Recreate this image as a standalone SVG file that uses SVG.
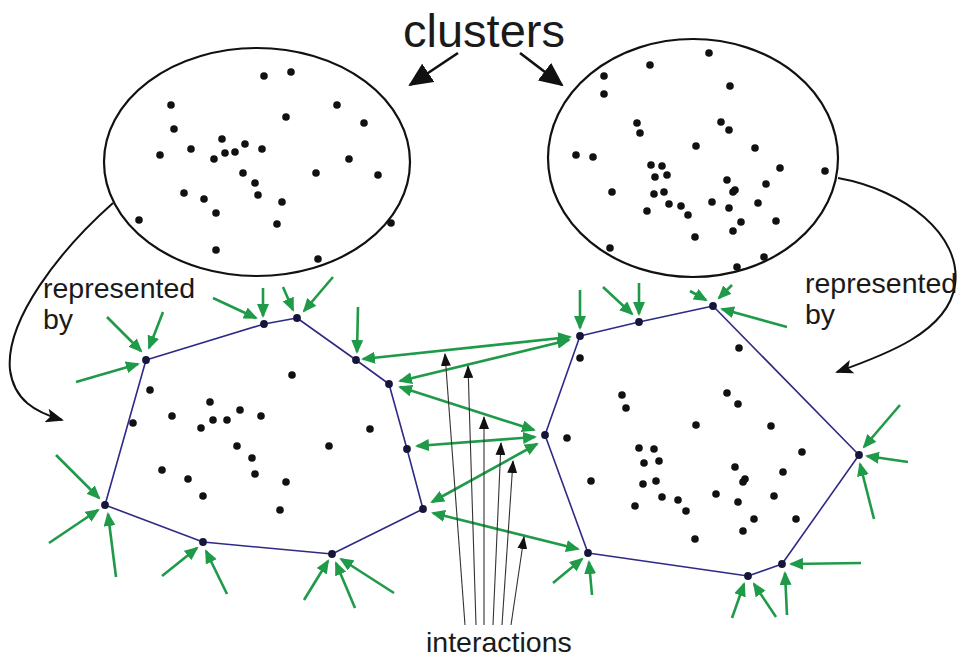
<svg xmlns="http://www.w3.org/2000/svg" width="960" height="658" viewBox="0 0 960 658">
<style>
.ell{fill:none;stroke:#111;stroke-width:2.2}
.dot circle{fill:#111;r:3.8px}
.hull{fill:none;stroke:#2e2a86;stroke-width:1.6;stroke-linejoin:round}
.v circle{fill:#16163a;r:3.9px}
.g{stroke:#1f9a48;stroke-width:2.6;fill:none;marker-end:url(#gh)}
.gd{stroke:#1f9a48;stroke-width:2.6;fill:none;marker-end:url(#gh);marker-start:url(#gh)}
.ia{stroke:#333;stroke-width:1.1;fill:none;marker-end:url(#th)}
.cv{stroke:#111;stroke-width:2;fill:none;marker-end:url(#ch)}
.ca{stroke:#111;stroke-width:2.6;fill:none;marker-end:url(#bh)}
.t{font-family:"Liberation Sans",Arial,sans-serif;fill:#1a1a1a}
</style>
<defs>
<marker id="gh" markerUnits="userSpaceOnUse" markerWidth="15" markerHeight="12" refX="12" refY="6" orient="auto-start-reverse"><path d="M0,0 L14,6 L0,12 z" fill="#1f9a48"/></marker>
<marker id="th" markerUnits="userSpaceOnUse" markerWidth="13" markerHeight="10" refX="12" refY="5" orient="auto"><path d="M0,0 L13,5 L0,10 z" fill="#111"/></marker>
<marker id="ch" markerUnits="userSpaceOnUse" markerWidth="18" markerHeight="14" refX="16" refY="7" orient="auto"><path d="M0,0 L18,7 L0,14 L4,7 z" fill="#111"/></marker>
<marker id="bh" markerUnits="userSpaceOnUse" markerWidth="24" markerHeight="22" refX="22" refY="11" orient="auto"><path d="M0,0 L24,11 L0,22 z" fill="#111"/></marker>
</defs>
<rect width="960" height="658" fill="#fff"/>

<g id="cluster-left">
<ellipse class="ell" cx="257" cy="162" rx="153" ry="114"/>
<g class="dot">
<circle cx="264" cy="76" r="3.8"/><circle cx="291" cy="72" r="3.8"/><circle cx="171" cy="105" r="3.8"/><circle cx="337" cy="105" r="3.8"/>
<circle cx="286" cy="117" r="3.8"/><circle cx="174" cy="129" r="3.8"/><circle cx="364" cy="123" r="3.8"/><circle cx="222" cy="139" r="3.8"/>
<circle cx="245" cy="144" r="3.8"/><circle cx="191" cy="149" r="3.8"/><circle cx="262" cy="149" r="3.8"/><circle cx="225" cy="153" r="3.8"/>
<circle cx="235" cy="152" r="3.8"/><circle cx="160" cy="155" r="3.8"/><circle cx="214" cy="159" r="3.8"/><circle cx="349" cy="159" r="3.8"/>
<circle cx="243" cy="173" r="3.8"/><circle cx="316" cy="173" r="3.8"/><circle cx="378" cy="175" r="3.8"/><circle cx="255" cy="183" r="3.8"/>
<circle cx="184" cy="193" r="3.8"/><circle cx="258" cy="195" r="3.8"/><circle cx="204" cy="199" r="3.8"/><circle cx="282" cy="202" r="3.8"/>
<circle cx="216" cy="213" r="3.8"/><circle cx="139" cy="220" r="3.8"/><circle cx="277" cy="224" r="3.8"/><circle cx="391" cy="223" r="3.8"/>
<circle cx="216" cy="250" r="3.8"/><circle cx="318" cy="259" r="3.8"/>
</g>
</g>

<g id="cluster-right">
<ellipse class="ell" cx="693" cy="158" rx="145" ry="119"/>
<g class="dot">
<circle cx="709" cy="53" r="3.8"/><circle cx="650" cy="65" r="3.8"/><circle cx="604" cy="76" r="3.8"/><circle cx="604" cy="94" r="3.8"/>
<circle cx="730" cy="86" r="3.8"/><circle cx="637" cy="123" r="3.8"/><circle cx="640" cy="133" r="3.8"/><circle cx="721" cy="122" r="3.8"/>
<circle cx="729" cy="130" r="3.8"/><circle cx="696" cy="146" r="3.8"/><circle cx="755" cy="148" r="3.8"/><circle cx="576" cy="155" r="3.8"/>
<circle cx="593" cy="157" r="3.8"/><circle cx="780" cy="168" r="3.8"/><circle cx="825" cy="171" r="3.8"/><circle cx="651" cy="165" r="3.8"/>
<circle cx="662" cy="166" r="3.8"/><circle cx="655" cy="177" r="3.8"/><circle cx="667" cy="175" r="3.8"/><circle cx="727" cy="180" r="3.8"/>
<circle cx="766" cy="184" r="3.8"/><circle cx="612" cy="192" r="3.8"/><circle cx="654" cy="194" r="3.8"/><circle cx="664" cy="192" r="3.8"/>
<circle cx="735" cy="190" r="3.8"/><circle cx="733" cy="192" r="3.8"/><circle cx="712" cy="202" r="3.8"/><circle cx="758" cy="203" r="3.8"/>
<circle cx="669" cy="204" r="3.8"/><circle cx="681" cy="206" r="3.8"/><circle cx="729" cy="208" r="3.8"/><circle cx="647" cy="211" r="3.8"/>
<circle cx="688" cy="215" r="3.8"/><circle cx="741" cy="222" r="3.8"/><circle cx="776" cy="221" r="3.8"/><circle cx="733" cy="231" r="3.8"/>
<circle cx="695" cy="237" r="3.8"/><circle cx="610" cy="248" r="3.8"/><circle cx="764" cy="257" r="3.8"/><circle cx="737" cy="267" r="3.8"/>
</g>
</g>

<g id="hull-left">
<polygon class="hull" points="146,360 264,324 297,318 356,360 389,384 407,449 423,509 332,554 203,542 105,505"/>
<g class="dot">
<circle cx="292" cy="375" r="3.8"/><circle cx="150" cy="390" r="3.8"/><circle cx="133" cy="423" r="3.8"/><circle cx="210" cy="402" r="3.8"/>
<circle cx="172" cy="416" r="3.8"/><circle cx="240" cy="410" r="3.8"/><circle cx="213" cy="420" r="3.8"/><circle cx="227" cy="420" r="3.8"/>
<circle cx="261" cy="416" r="3.8"/><circle cx="201" cy="428" r="3.8"/><circle cx="370" cy="429" r="3.8"/><circle cx="237" cy="446" r="3.8"/>
<circle cx="329" cy="446" r="3.8"/><circle cx="252" cy="458" r="3.8"/><circle cx="162" cy="470" r="3.8"/><circle cx="255" cy="474" r="3.8"/>
<circle cx="188" cy="479" r="3.8"/><circle cx="286" cy="482" r="3.8"/><circle cx="203" cy="496" r="3.8"/><circle cx="280" cy="510" r="3.8"/>
</g>
<g class="v">
<circle cx="146" cy="360" r="3.9"/><circle cx="264" cy="324" r="3.9"/><circle cx="297" cy="318" r="3.9"/><circle cx="356" cy="360" r="3.9"/>
<circle cx="389" cy="384" r="3.9"/><circle cx="407" cy="449" r="3.9"/><circle cx="423" cy="509" r="3.9"/><circle cx="332" cy="554" r="3.9"/>
<circle cx="203" cy="542" r="3.9"/><circle cx="105" cy="505" r="3.9"/>
</g>
</g>

<g id="hull-right">
<polygon class="hull" points="580,336 639,322 713,306 859,455 782,564 748,576 588,553 545,435"/>
<g class="dot">
<circle cx="580" cy="358" r="3.8"/><circle cx="739" cy="348" r="3.8"/><circle cx="622" cy="395" r="3.8"/><circle cx="626" cy="408" r="3.8"/>
<circle cx="727" cy="393" r="3.8"/><circle cx="738" cy="404" r="3.8"/><circle cx="696" cy="425" r="3.8"/><circle cx="771" cy="426" r="3.8"/>
<circle cx="567" cy="438" r="3.8"/><circle cx="639" cy="448" r="3.8"/><circle cx="654" cy="449" r="3.8"/><circle cx="802" cy="452" r="3.8"/>
<circle cx="644" cy="463" r="3.8"/><circle cx="659" cy="461" r="3.8"/><circle cx="735" cy="467" r="3.8"/><circle cx="783" cy="472" r="3.8"/>
<circle cx="591" cy="481" r="3.8"/><circle cx="643" cy="484" r="3.8"/><circle cx="656" cy="481" r="3.8"/><circle cx="745" cy="479" r="3.8"/>
<circle cx="743" cy="482" r="3.8"/><circle cx="716" cy="494" r="3.8"/><circle cx="738" cy="502" r="3.8"/><circle cx="774" cy="496" r="3.8"/>
<circle cx="662" cy="497" r="3.8"/><circle cx="678" cy="500" r="3.8"/><circle cx="686" cy="511" r="3.8"/><circle cx="635" cy="506" r="3.8"/>
<circle cx="754" cy="519" r="3.8"/><circle cx="796" cy="519" r="3.8"/><circle cx="743" cy="531" r="3.8"/><circle cx="695" cy="539" r="3.8"/>
</g>
<g class="v">
<circle cx="580" cy="336" r="3.9"/><circle cx="639" cy="322" r="3.9"/><circle cx="713" cy="306" r="3.9"/><circle cx="859" cy="455" r="3.9"/>
<circle cx="782" cy="564" r="3.9"/><circle cx="748" cy="576" r="3.9"/><circle cx="588" cy="553" r="3.9"/><circle cx="545" cy="435" r="3.9"/>
</g>
</g>

<g id="connectors">
<line class="ca" x1="458" y1="53" x2="410" y2="85"/>
<line class="ca" x1="520" y1="53" x2="562" y2="85"/>
<path class="cv" d="M113,203 C60,250 5,320 10,370 C14,400 35,412 62,420"/>
<path class="cv" d="M838,178 C905,190 962,235 955,285 C948,332 885,355 837,372"/>
<line class="gd" x1="363" y1="359" x2="570" y2="337"/>
<line class="gd" x1="400" y1="381" x2="569" y2="340"/>
<line class="gd" x1="400" y1="387" x2="534" y2="430"/>
<line class="gd" x1="417" y1="446" x2="535" y2="437"/>
<line class="gd" x1="432" y1="502" x2="537" y2="444"/>
<line class="gd" x1="433" y1="513" x2="578" y2="549"/>
<line class="ia" x1="465" y1="625" x2="445" y2="354"/>
<line class="ia" x1="476" y1="625" x2="468" y2="366"/>
<line class="ia" x1="484" y1="625" x2="484" y2="417"/>
<line class="ia" x1="493" y1="625" x2="501" y2="443"/>
<line class="ia" x1="502" y1="625" x2="513" y2="461"/>
<line class="ia" x1="511" y1="625" x2="524" y2="537"/>
<line class="g" x1="107" y1="317" x2="141" y2="351"/>
<line class="g" x1="163" y1="312" x2="149" y2="348"/>
<line class="g" x1="76" y1="382" x2="138" y2="364"/>
<line class="g" x1="213" y1="298" x2="256" y2="318"/>
<line class="g" x1="263" y1="288" x2="263" y2="316"/>
<line class="g" x1="283" y1="287" x2="293" y2="310"/>
<line class="g" x1="333" y1="277" x2="304" y2="311"/>
<line class="g" x1="358" y1="307" x2="357" y2="352"/>
<line class="g" x1="304" y1="600" x2="328" y2="561"/>
<line class="g" x1="355" y1="608" x2="336" y2="563"/>
<line class="g" x1="394" y1="593" x2="341" y2="559"/>
<line class="g" x1="162" y1="576" x2="197" y2="548"/>
<line class="g" x1="227" y1="594" x2="206" y2="551"/>
<line class="g" x1="56" y1="455" x2="99" y2="498"/>
<line class="g" x1="49" y1="543" x2="98" y2="510"/>
<line class="g" x1="116" y1="577" x2="108" y2="514"/>
<line class="g" x1="580" y1="290" x2="580" y2="328"/>
<line class="g" x1="603" y1="287" x2="632" y2="314"/>
<line class="g" x1="639" y1="283" x2="639" y2="314"/>
<line class="g" x1="690" y1="291" x2="706" y2="300"/>
<line class="g" x1="732" y1="285" x2="719" y2="298"/>
<line class="g" x1="787" y1="327" x2="722" y2="309"/>
<line class="g" x1="900" y1="405" x2="864" y2="447"/>
<line class="g" x1="908" y1="462" x2="867" y2="456"/>
<line class="g" x1="874" y1="519" x2="860" y2="464"/>
<line class="g" x1="787" y1="615" x2="785" y2="573"/>
<line class="g" x1="861" y1="563" x2="791" y2="564"/>
<line class="g" x1="732" y1="618" x2="744" y2="584"/>
<line class="g" x1="776" y1="617" x2="754" y2="584"/>
<line class="g" x1="553" y1="583" x2="582" y2="559"/>
<line class="g" x1="592" y1="595" x2="589" y2="562"/>
</g>

<g id="labels">
<text class="t" x="403" y="47" font-size="47">clusters</text>
<text class="t" x="43" y="298" font-size="28.5">represented</text>
<text class="t" x="43" y="329" font-size="28.5">by</text>
<text class="t" x="805" y="293" font-size="28.5">represented</text>
<text class="t" x="805" y="324" font-size="28.5">by</text>
<text class="t" x="426" y="652" font-size="28.5">interactions</text>
</g>
</svg>
